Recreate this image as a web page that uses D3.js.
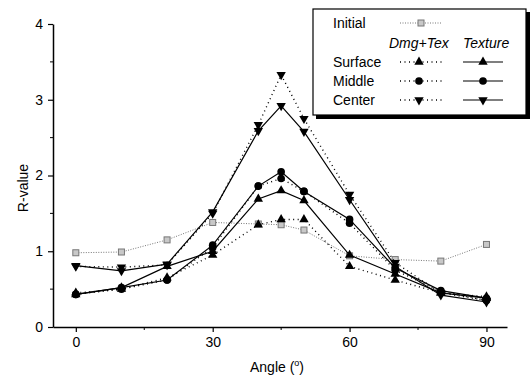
<!DOCTYPE html>
<html>
<head>
<meta charset="utf-8">
<script src="https://cdn.jsdelivr.net/npm/d3@7"></script>
<style>
  body { margin: 0; background: #fff; }
  text { font-family: "Liberation Sans", Arial, sans-serif; fill: #000; }
</style>
</head>
<body>
<div class="chart"></div>
<script>
// angles measured (deg)
var angles = [0, 10, 20, 30, 40, 45, 50, 60, 70, 80, 90];

var initial    = [0.98, 0.99, 1.15, 1.38, 1.36, 1.35, 1.28, 0.94, 0.89, 0.87, 1.09];
var surfaceDmg = [0.45, 0.50, 0.65, 0.95, 1.35, 1.42, 1.42, 0.80, 0.62, 0.45, 0.40];
var surfaceTex = [0.43, 0.52, 0.80, 1.00, 1.69, 1.80, 1.67, 0.95, 0.70, 0.45, 0.38];
var middleDmg  = [0.43, 0.50, 0.62, 1.05, 1.86, 1.96, 1.79, 1.37, 0.75, 0.47, 0.35];
var middleTex  = [0.43, 0.52, 0.62, 1.08, 1.86, 2.05, 1.79, 1.42, 0.78, 0.48, 0.38];
var centerDmg  = [0.80, 0.79, 0.82, 1.50, 2.67, 3.33, 2.75, 1.75, 0.85, 0.45, 0.35];
var centerTex  = [0.81, 0.74, 0.83, 1.52, 2.59, 2.92, 2.58, 1.68, 0.80, 0.42, 0.33];

var xTicks = [0, 30, 60, 90];
var xMinor = [15, 45, 75];
var yTicks = [0, 1, 2, 3, 4];
var yMinor = [0.5, 1.5, 2.5, 3.5];

var width = 532, height = 379;

var svg = d3.select(".chart")
  .append("svg")
  .attr("width", width)
  .attr("height", height);

var x = d3.scaleLinear().domain([-5, 94.5]).range([53, 507]);
var y = d3.scaleLinear().domain([0, 4]).range([327, 24]);

// axes
var xAxis = d3.axisBottom(x).tickValues(xTicks).tickSize(5).tickPadding(5).tickSizeOuter(0);
var gx = svg.append("g").attr("transform", "translate(0," + y(0) + ")").call(xAxis);
gx.append("g").selectAll("line").data(xMinor).enter().append("line")
  .attr("x1", d => x(d)).attr("x2", d => x(d)).attr("y1", 0).attr("y2", 3)
  .attr("stroke", "#000");

var yAxis = d3.axisLeft(y).tickValues(yTicks).tickFormat(d3.format("d"))
  .tickSize(5).tickPadding(5).tickSizeOuter(0);
var gy = svg.append("g").attr("transform", "translate(" + x(-5) + ",0)").call(yAxis);
gy.append("g").selectAll("line").data(yMinor).enter().append("line")
  .attr("y1", d => y(d)).attr("y2", d => y(d)).attr("x1", 0).attr("x2", -3)
  .attr("stroke", "#000");

svg.selectAll(".domain").attr("stroke-width", 1.5);
svg.selectAll(".tick line").attr("stroke-width", 1.2);
svg.selectAll(".tick text").style("font-size", "14px").style("font-family", "Liberation Sans, Arial, sans-serif");

// axis titles
var xl = svg.append("text")
  .attr("x", 277).attr("y", 372)
  .attr("text-anchor", "middle")
  .style("font-size", "14px");
xl.append("tspan").text("Angle (");
xl.append("tspan").text("o").attr("dy", -6).style("font-size", "9px");
xl.append("tspan").text(")").attr("dy", 6);

svg.append("text")
  .attr("transform", "translate(28,188) rotate(-90)")
  .attr("text-anchor", "middle")
  .style("font-size", "14px")
  .text("R-value");

// series
var series = [
  { values: initial,    shape: "square", dash: "1,1.5", color: "#777", width: 1 },
  { values: surfaceDmg, shape: "up",     dash: "1,3.5", color: "#000", width: 1.4 },
  { values: middleDmg,  shape: "circle", dash: "1,3.5", color: "#000", width: 1.4 },
  { values: centerDmg,  shape: "down",   dash: "1,3.5", color: "#000", width: 1.4 },
  { values: surfaceTex, shape: "up",     dash: null,    color: "#000", width: 1.2 },
  { values: middleTex,  shape: "circle", dash: null,    color: "#000", width: 1.2 },
  { values: centerTex,  shape: "down",   dash: null,    color: "#000", width: 1.2 }
];

var line = d3.line().x(d => x(d[0])).y(d => y(d[1]));

function marker(g, shape, px, py) {
  if (shape === "square") {
    g.append("rect")
      .attr("x", px - 3).attr("y", py - 3).attr("width", 6).attr("height", 6)
      .attr("fill", "#c8c8c8").attr("stroke", "#777").attr("stroke-width", 1);
    return;
  }
  var type = shape === "circle" ? d3.symbolCircle : d3.symbolTriangle;
  var size = shape === "circle" ? 46 : 38;
  g.append("path")
    .attr("d", d3.symbol().type(type).size(size))
    .attr("transform", "translate(" + px + "," + py + ")" + (shape === "down" ? " rotate(180)" : ""))
    .attr("fill", "#000");
}

series.forEach(function(s) {
  var pts = angles.map((a, i) => [a, s.values[i]]);
  svg.append("path")
    .datum(pts)
    .attr("d", line)
    .attr("fill", "none")
    .attr("stroke", s.color)
    .attr("stroke-width", s.width)
    .attr("stroke-dasharray", s.dash);
  var g = svg.append("g");
  pts.forEach(p => marker(g, s.shape, x(p[0]), y(p[1])));
});

// legend
var lg = svg.append("g");
lg.append("rect").attr("x", 316).attr("y", 12).attr("width", 214).attr("height", 107).attr("fill", "#000");
lg.append("rect").attr("x", 313).attr("y", 9).attr("width", 213).attr("height", 106)
  .attr("fill", "#fff").attr("stroke", "#000").attr("stroke-width", 1.2);

lg.append("text").attr("x", 333).attr("y", 28).style("font-size", "14px").text("Initial");
lg.append("line").attr("x1", 400).attr("x2", 441).attr("y1", 23).attr("y2", 23)
  .attr("stroke", "#777").attr("stroke-dasharray", "1,1.5");
marker(lg, "square", 421, 23);

lg.append("text").attr("x", 389).attr("y", 48).style("font-size", "14px").style("font-style", "italic").text("Dmg+Tex");
lg.append("text").attr("x", 463).attr("y", 48).style("font-size", "14px").style("font-style", "italic").text("Texture");

var rows = [
  { name: "Surface", shape: "up",     y: 62 },
  { name: "Middle",  shape: "circle", y: 81 },
  { name: "Center",  shape: "down",   y: 100 }
];
rows.forEach(function(r) {
  lg.append("text").attr("x", 333).attr("y", r.y + 5).style("font-size", "14px").text(r.name);
  lg.append("line").attr("x1", 400).attr("x2", 443).attr("y1", r.y).attr("y2", r.y)
    .attr("stroke", "#000").attr("stroke-width", 1.4).attr("stroke-dasharray", "1,3.5");
  marker(lg, r.shape, 419, r.y);
  lg.append("line").attr("x1", 463).attr("x2", 503).attr("y1", r.y).attr("y2", r.y)
    .attr("stroke", "#000").attr("stroke-width", 1.2);
  marker(lg, r.shape, 483, r.y);
});
</script>
</body>
</html>
